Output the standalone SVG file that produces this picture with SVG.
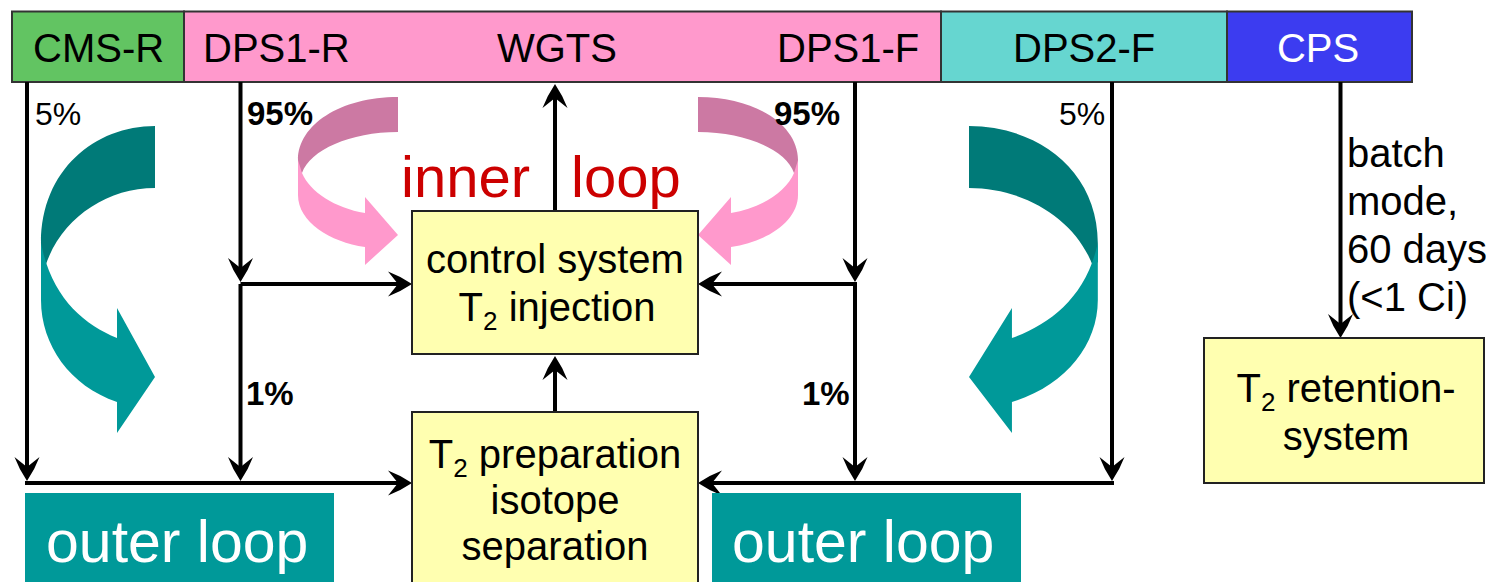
<svg xmlns="http://www.w3.org/2000/svg" width="1486" height="582" viewBox="0 0 1486 582">
  <style>
    text { font-family: "Liberation Sans", Arial, sans-serif; }
    .bar { stroke: #333; stroke-width: 2; }
    .lbl { font-size: 40px; fill: #000; }
    .pct { font-size: 32px; fill: #000; }
    .pctb { font-size: 33px; font-weight: bold; fill: #000; }
    .box { fill: #ffffb0; stroke: #222; stroke-width: 2; }
    .boxt { font-size: 40px; fill: #000; text-anchor: middle; }
    .conn { fill: none; stroke: #000; stroke-width: 4; }
    .outer { fill: #009999; }
    .outert { font-size: 59px; fill: #fff; }
    .inner { font-size: 58px; fill: #cc0000; }
    .tealDark { fill: #007a78; }
    .tealLight { fill: #009999; }
    .pinkDark { fill: #cc79a3; }
    .pinkLight { fill: #ff99cc; }
  </style>
  <defs>
    <marker id="ah" viewBox="0 0 24 26" refX="16" refY="13" markerWidth="24" markerHeight="26" markerUnits="userSpaceOnUse" orient="auto">
      <path d="M24,13 Q12,5 0,0.5 L10,13 L0,25.5 Q12,21 24,13 Z" fill="#000"/>
    </marker>
  </defs>

  <!-- curved flow arrows (decorative) -->
  <g id="teal-left">
    <path class="tealDark" d="M155,126 C95,126 41,170 41,243 L41,262 L45,267 C60,220 105,188 155,188 Z"/>
    <path class="tealLight" d="M41,243 L41,300 C41,345 70,386 117,402 L117,433 L155,377 L117,308 L117,338 C85,325 55,300 43,252 Z"/>
  </g>
  <g id="teal-right" transform="translate(1144.15,0) scale(-1.13,1)">
    <path class="tealDark" d="M155,126 C95,126 41,170 41,243 L41,262 L45,267 C60,220 105,188 155,188 Z"/>
    <path class="tealLight" d="M41,243 L41,300 C41,345 70,386 117,402 L117,433 L155,377 L117,308 L117,338 C85,325 55,300 43,252 Z"/>
  </g>
  <g id="pink-left">
    <path class="pinkDark" d="M398,97 C340,97 298,125 298,160 L298,170 L302,173 C310,150 350,132 398,132 Z"/>
    <path class="pinkLight" d="M298,160 L298,195 C298,222 330,242 365,247 L365,265 L398,235 L365,197 L365,213 C335,208 310,192 302,173 Z"/>
  </g>
  <g id="pink-right" transform="translate(1096,0) scale(-1,1)">
    <path class="pinkDark" d="M398,97 C340,97 298,125 298,160 L298,170 L302,173 C310,150 350,132 398,132 Z"/>
    <path class="pinkLight" d="M298,160 L298,195 C298,222 330,242 365,247 L365,265 L398,235 L365,197 L365,213 C335,208 310,192 302,173 Z"/>
  </g>

  <!-- beamline sections -->
  <g id="cms-r">
    <rect class="bar" x="12" y="11.5" width="172" height="70.5" fill="#62c462"/>
    <text class="lbl" x="33" y="62">CMS-R</text>
  </g>
  <g id="wgts-section">
    <rect class="bar" x="184" y="11.5" width="757" height="70.5" fill="#ff99cc"/>
    <text class="lbl" x="203" y="62">DPS1-R</text>
    <text class="lbl" x="497" y="62">WGTS</text>
    <text class="lbl" x="777" y="62">DPS1-F</text>
  </g>
  <g id="dps2-f">
    <rect class="bar" x="941" y="11.5" width="286" height="70.5" fill="#66d6d0"/>
    <text class="lbl" x="1013" y="62">DPS2-F</text>
  </g>
  <g id="cps">
    <rect class="bar" x="1227" y="11.5" width="185" height="70.5" fill="#3c3cf0"/>
    <text class="lbl" x="1318" y="62" fill="#fff" style="fill:#fff" text-anchor="middle">CPS</text>
  </g>

  <!-- connectors -->
  <g id="connectors">
    <path class="conn" d="M27,82 V473" marker-end="url(#ah)"/>
    <path class="conn" d="M25,483 H404" marker-end="url(#ah)"/>
    <path class="conn" d="M240.5,82 V274" marker-end="url(#ah)"/>
    <path class="conn" d="M240.5,284 H404" marker-end="url(#ah)"/>
    <path class="conn" d="M240.5,284 V473" marker-end="url(#ah)"/>
    <path class="conn" d="M555,211 V92" marker-end="url(#ah)"/>
    <path class="conn" d="M555,412 V364" marker-end="url(#ah)"/>
    <path class="conn" d="M855,82 V274" marker-end="url(#ah)"/>
    <path class="conn" d="M857,284 H706" marker-end="url(#ah)"/>
    <path class="conn" d="M855,284 V473" marker-end="url(#ah)"/>
    <path class="conn" d="M1112,82 V473" marker-end="url(#ah)"/>
    <path class="conn" d="M1114,483 H706" marker-end="url(#ah)"/>
    <path class="conn" d="M1340.5,82 V330" marker-end="url(#ah)"/>
  </g>

  <!-- flow fractions -->
  <g id="labels">
    <text class="pct" x="35" y="125">5%</text>
    <text class="pctb" x="247" y="125">95%</text>
    <text class="pctb" x="774" y="125">95%</text>
    <text class="pct" x="1059" y="125">5%</text>
    <text class="pctb" x="246" y="405">1%</text>
    <text class="pctb" x="802" y="405">1%</text>
    <text class="inner" x="401" y="197">inner</text>
    <text class="inner" x="571" y="197">loop</text>
    <text class="lbl" x="1347" y="167">batch</text>
    <text class="lbl" x="1347" y="215">mode,</text>
    <text class="lbl" x="1347" y="263">60 days</text>
    <text class="lbl" x="1347" y="311">(&lt;1 Ci)</text>
  </g>

  <g id="control-system">
    <rect class="box" x="412" y="211" width="286" height="143"/>
    <text class="boxt" x="555" y="273">control system</text>
    <text class="boxt" x="557" y="321">T<tspan font-size="26" dy="9">2</tspan><tspan dy="-9"> injection</tspan></text>
  </g>
  <g id="t2-preparation">
    <rect class="box" x="412" y="412" width="286" height="180"/>
    <text class="boxt" x="555" y="468">T<tspan font-size="26" dy="9">2</tspan><tspan dy="-9"> preparation</tspan></text>
    <text class="boxt" x="555" y="514">isotope</text>
    <text class="boxt" x="555" y="560">separation</text>
  </g>
  <g id="t2-retention">
    <rect class="box" x="1204" y="338" width="280" height="145"/>
    <text class="boxt" x="1346" y="402">T<tspan font-size="26" dy="9">2</tspan><tspan dy="-9"> retention-</tspan></text>
    <text class="boxt" x="1346" y="450">system</text>
  </g>

  <g id="outer-loop-left">
    <rect class="outer" x="25" y="493" width="309" height="89"/>
    <text class="outert" x="46" y="562">outer loop</text>
  </g>
  <g id="outer-loop-right">
    <rect class="outer" x="712" y="493" width="309" height="89"/>
    <text class="outert" x="732" y="562">outer loop</text>
  </g>
</svg>
